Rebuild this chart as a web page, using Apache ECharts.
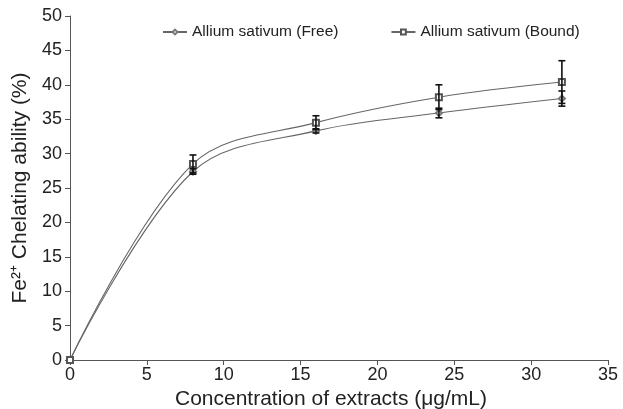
<!DOCTYPE html>
<html>
<head>
<meta charset="utf-8">
<script src="https://cdn.jsdelivr.net/npm/echarts@6/dist/echarts.min.js"></script>
<style>
  html, body { margin: 0; padding: 0; background: #fff; }
  #chart { width: 623px; height: 409px; }
</style>
</head>
<body>
<div id="chart"></div>
<script>
// concentration (µg/mL)
var conc = [0, 8, 16, 24, 32];
// chelating ability (%) and error bar (+/-)
var freeVals = [0, 27.4, 33.3, 35.9, 38.0];
var freeErr = [0, 0.4, 0.3, 0.7, 1.1];
var boundVals = [0, 28.5, 34.5, 38.2, 40.4];
var boundErr = [0, 1.3, 1.0, 1.8, 3.1];

var font = 'Liberation Sans, Arial, sans-serif';
var chart = echarts.init(document.getElementById('chart'));

function pairs(vals) {
  return conc.map(function (c, i) { return [c, vals[i]]; });
}
function errData(vals, errs) {
  return conc.map(function (c, i) { return [c, vals[i] - errs[i], vals[i] + errs[i]]; });
}
function renderErr(params, api) {
  if (api.value(2) - api.value(1) <= 0) return;
  var lo = api.coord([api.value(0), api.value(1)]);
  var hi = api.coord([api.value(0), api.value(2)]);
  var w = 3.5;
  var style = { stroke: '#111', lineWidth: 1.6 };
  return {
    type: 'group',
    children: [
      { type: 'line', shape: { x1: hi[0], y1: hi[1], x2: lo[0], y2: lo[1] }, style: style },
      { type: 'line', shape: { x1: hi[0] - w, y1: hi[1], x2: hi[0] + w, y2: hi[1] }, style: style },
      { type: 'line', shape: { x1: lo[0] - w, y1: lo[1], x2: lo[0] + w, y2: lo[1] }, style: style }
    ]
  };
}

chart.setOption({
  animation: false,
  textStyle: { fontFamily: font },
  grid: { left: 70, right: 15, top: 16, bottom: 49, outerBoundsMode: 'none', containLabel: false },
  legend: {
    top: 19,
    left: 157,
    itemGap: 52,
    itemWidth: 24,
    itemHeight: 6,
    textStyle: { fontSize: 15.5, color: '#222', fontFamily: font },
    data: ['Allium sativum (Free)', 'Allium sativum (Bound)']
  },
  xAxis: {
    type: 'value',
    min: 0, max: 35, interval: 5,
    name: 'Concentration of extracts (μg/mL)',
    nameLocation: 'middle',
    nameGap: 28,
    nameTextStyle: { fontSize: 21, color: '#222', fontFamily: font, padding: [0, 16, 0, 0] },
    axisLine: { lineStyle: { color: '#555' } },
    axisTick: { show: true, length: 5, lineStyle: { color: '#555' } },
    axisLabel: { fontSize: 18, color: '#222', margin: 6 },
    splitLine: { show: false }
  },
  yAxis: {
    type: 'value',
    min: 0, max: 50, interval: 5,
    name: 'Fe²⁺ Chelating ability (%)',
    nameLocation: 'middle',
    nameGap: 38,
    nameTextStyle: { fontSize: 21, color: '#222', fontFamily: font },
    axisLine: { show: true, lineStyle: { color: '#555' } },
    axisTick: { show: true, length: 5, lineStyle: { color: '#555' } },
    axisLabel: { fontSize: 18, color: '#222', margin: 8 },
    splitLine: { show: false }
  },
  series: [
    {
      name: 'Allium sativum (Free)',
      type: 'line',
      data: pairs(freeVals),
      smooth: 0.35,
      symbol: 'emptyDiamond',
      symbolSize: 6,
      lineStyle: { color: '#666', width: 1.1 },
      itemStyle: { color: '#777', borderWidth: 1 },
      z: 3
    },
    {
      name: 'Allium sativum (Bound)',
      type: 'line',
      data: pairs(boundVals),
      smooth: 0.35,
      symbol: 'emptyRect',
      symbolSize: 6,
      lineStyle: { color: '#666', width: 1.1 },
      itemStyle: { color: '#555', borderWidth: 1 },
      z: 3
    },
    {
      type: 'custom',
      renderItem: renderErr,
      data: errData(freeVals, freeErr),
      encode: { x: 0, y: [1, 2] },
      z: 4
    },
    {
      type: 'custom',
      renderItem: renderErr,
      data: errData(boundVals, boundErr),
      encode: { x: 0, y: [1, 2] },
      z: 4
    }
  ]
});
</script>
</body>
</html>
